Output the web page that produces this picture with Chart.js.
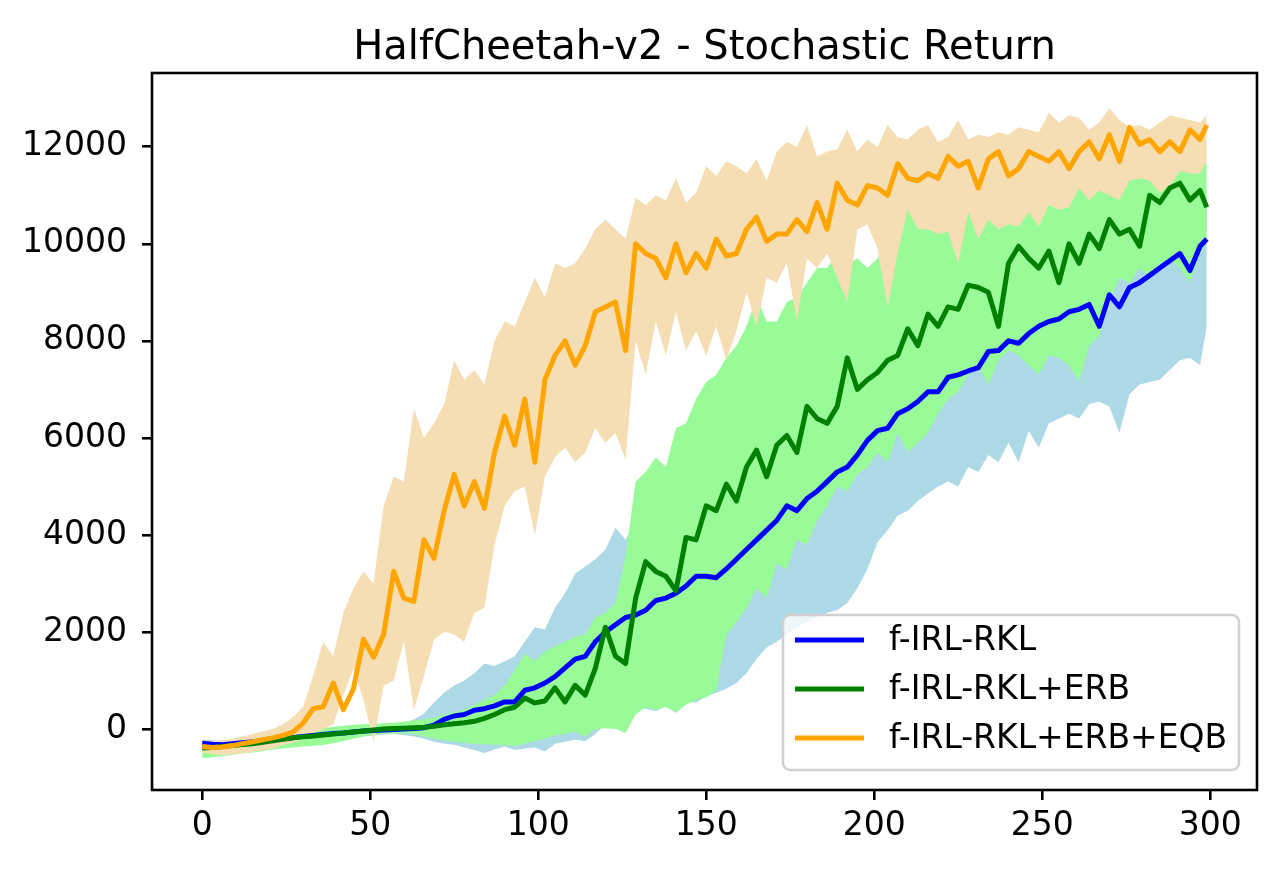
<!DOCTYPE html>
<html>
<head>
<meta charset="utf-8">
<script src="https://cdn.jsdelivr.net/npm/chart.js@4.4.1/dist/chart.umd.min.js"></script>
<style>
  html, body { margin: 0; padding: 0; background: #fff; }
  #wrap { width: 1280px; height: 870px; }
</style>
</head>
<body>
<div id="wrap"><canvas id="chart" width="1280" height="870"></canvas></div>
<script>
// x positions of the sampled iterations
const steps = [0,3,6,9,12,15,18,21,24,27,30,33,36,39,42,45,48,51,54,57,60,63,66,69,72,75,78,81,84,87,90,93,96,99,
  102,105,108,111,114,117,120,123,126,129,132,135,138,141,144,147,150,153,156,159,162,165,168,171,174,177,180,183,186,189,192,195,198,
  201,204,207,210,213,216,219,222,225,228,231,234,237,240,243,246,249,252,255,258,261,264,267,270,273,276,279,282,285,288,291,294,297,299];

const seriesNames = ["f-IRL-RKL", "f-IRL-RKL+ERB", "f-IRL-RKL+ERB+EQB"];
const xTicks = [0, 50, 100, 150, 200, 250, 300];
const yTicks = [0, 2000, 4000, 6000, 8000, 10000, 12000];

// f-IRL-RKL (blue)
const rklMean = [-290,-310,-320,-300,-280,-260,-240,-220,-200,-180,-150,-130,-110,-90,-80,-60,-40,-30,-20,-10,0,10,30,80,200,270,300,390,420,480,560,560,800,850,
  950,1080,1260,1440,1500,1800,2000,2150,2300,2350,2450,2650,2700,2800,2950,3150,3150,3120,3300,3500,3700,3900,4100,4300,4600,4500,4750,4900,5100,5300,5400,5650,5950,
  6150,6200,6500,6600,6750,6950,6950,7250,7300,7380,7450,7780,7800,8000,7950,8150,8300,8400,8450,8600,8650,8750,8300,8950,8700,9100,9200,9350,9500,9650,9800,9450,9950,10100];
const rklUpper = [-210,-230,-240,-220,-200,-180,-160,-140,-120,-100,-80,-60,-40,-20,0,20,40,60,80,100,130,200,320,550,750,900,1000,1150,1350,1300,1400,1500,1800,2100,
  2050,2500,2800,3200,3350,3500,3700,4150,3900,4300,4500,4700,4800,4900,5100,5300,5400,5600,5800,6000,6200,6400,6600,6800,7000,7100,7300,7500,7600,7800,7900,8100,8300,
  8400,8500,8700,8800,8900,9000,9100,9200,9300,9400,9500,9600,9700,9800,9850,9900,10000,10050,10100,10150,10200,10250,10100,10300,10250,10350,10400,10450,10400,10500,10550,10400,10600,10800];
const rklLower = [-400,-430,-440,-420,-400,-380,-350,-330,-310,-290,-270,-250,-230,-210,-190,-170,-150,-130,-110,-100,-120,-150,-200,-260,-300,-320,-380,-430,-490,-420,-360,-430,-400,-380,
  -460,-300,-260,-220,-250,-100,100,330,350,380,420,370,470,330,560,550,670,750,830,950,1150,1450,1680,1800,1950,2100,2200,2300,2400,2450,2600,2900,3300,
  3850,4100,4400,4500,4700,4850,5000,5100,5000,5400,5300,5650,5500,5900,5500,6150,5800,6300,6400,6500,6400,6700,6750,6650,6100,6900,7100,7150,7200,7400,7600,7650,7500,8300];

// f-IRL-RKL+ERB (green)
const erbMean = [-390,-380,-360,-340,-320,-300,-270,-240,-210,-180,-160,-140,-120,-100,-80,-60,-40,-20,0,10,20,30,40,60,90,110,130,160,220,300,400,450,640,540,
  580,850,560,900,700,1250,2100,1500,1350,2700,3450,3250,3150,2850,3950,3900,4600,4500,5050,4700,5400,5750,5200,5850,6050,5700,6650,6400,6300,6650,7650,7000,7200,
  7350,7600,7700,8250,7900,8550,8300,8700,8650,9150,9100,9000,8300,9600,9950,9700,9500,9850,9200,10000,9600,10200,9900,10500,10200,10300,9950,11000,10850,11150,11250,10900,11100,10750];
const erbUpper = [-260,-260,-250,-240,-220,-200,-170,-140,-110,-80,-50,-20,20,50,70,90,100,110,120,130,150,180,200,230,300,350,400,500,600,700,900,1200,1550,1400,
  1600,1700,1800,1900,1950,2300,2400,2600,3550,5100,5300,5600,5400,6200,6300,6800,7150,7300,7650,7900,8300,8900,8400,8400,8800,8900,9200,9500,9500,9800,9600,9700,9500,
  9700,10300,10700,10750,10550,10300,10450,10700,10600,10800,11000,11150,10800,11150,11150,11300,11100,11050,11350,11200,11400,11350,11600,11700,11650,11550,11500,11600,11700,11750,11800,11900,11850,11650];
const erbLower = [-600,-580,-560,-530,-500,-480,-450,-420,-400,-380,-360,-350,-330,-290,-250,-200,-150,-120,-100,-90,-80,-100,-150,-200,-230,-260,-280,-300,-310,-320,-330,-350,-300,-250,
  -200,-120,-100,-50,-150,0,20,0,-80,300,450,400,450,350,500,600,650,800,1950,2200,2500,2900,2700,3400,3300,3900,3800,4300,4600,5000,4900,5250,5400,
  5700,5500,6100,5700,5900,6100,6500,6800,6950,7300,7500,7100,7600,7800,7700,7500,7300,7700,7650,7500,7150,7900,8100,8800,9300,9200,9500,9300,9600,9700,9500,9200,9800,10000];

// f-IRL-RKL+ERB+EQB (orange)
const eqbMean = [-360,-380,-370,-340,-300,-260,-220,-180,-130,-60,120,420,460,950,400,830,1850,1480,1950,3250,2700,2630,3900,3520,4500,5250,4600,5100,4550,5700,6450,5850,6800,5500,
  7200,7700,8000,7500,7900,8600,8700,8800,7800,10000,9800,9700,9300,10000,9400,9800,9500,10100,9750,9800,10300,10550,10050,10200,10200,10500,10250,10850,10300,11250,10900,10800,11200,
  11150,11000,11650,11350,11300,11450,11350,11800,11600,11700,11150,11750,11900,11400,11550,11900,11800,11700,11900,11550,11900,12100,11750,12250,11700,12400,12050,12150,11900,12100,11900,12350,12150,12450];
const eqbUpper = [-220,-250,-230,-200,-150,-100,-50,0,100,250,450,1100,1800,1500,2400,2900,3250,3000,4600,5200,5100,6600,6000,6300,6700,7600,7200,7400,7100,8000,8400,8300,8800,9300,
  8900,9600,9500,9600,9900,10300,10500,10300,10100,10950,10800,11000,10900,11350,10850,11050,11600,11400,11700,11600,11450,11750,11300,11900,12100,12000,12450,11800,11900,11950,12350,11900,12150,
  12000,12450,12200,12150,12350,12450,12100,12200,12550,12150,12250,12200,12300,12250,12400,12350,12300,12700,12500,12650,12600,12350,12500,12800,12550,12400,12450,12350,12500,12650,12600,12550,12500,12650];
const eqbLower = [-480,-520,-540,-520,-500,-470,-430,-400,-330,-280,-200,-80,0,100,700,1250,600,-250,900,1000,1800,400,1100,1850,2000,1950,1800,2400,2500,3800,4600,4900,5000,4000,
  5200,5600,5800,5500,5700,6200,5900,6100,5550,8000,7300,8400,7700,8600,7800,8200,7700,8300,7600,8200,9000,8300,9300,9200,9600,8400,9700,9500,9800,9300,8800,10300,10400,
  9900,8700,9800,10700,10300,10300,10200,10250,9600,10650,10100,10500,10300,10400,10350,10650,10350,10800,10700,10750,11150,10900,11100,11000,10900,11300,11350,11300,11050,11200,11500,11450,11450,11700];

const lineColors = ["#0000ff", "#008000", "#ffa500"];
const bandColors = ["#add8e6", "#98fb98", "#f5deb3"];

function pts(values) {
  return steps.map((x, i) => ({ x: x, y: values[i] }));
}

function band(values, color, fillTarget, order) {
  return {
    data: pts(values),
    borderWidth: 0,
    pointRadius: 0,
    backgroundColor: color,
    fill: fillTarget === null ? false : { target: fillTarget },
    order: order,
    tension: 0
  };
}

function meanLine(values, label, color, order) {
  return {
    label: label,
    data: pts(values),
    borderColor: color,
    borderWidth: 5,
    borderJoinStyle: "round",
    pointRadius: 0,
    fill: false,
    order: order,
    tension: 0
  };
}

const datasets = [
  band(rklLower, bandColors[0], null, 10),
  band(rklUpper, bandColors[0], 0, 9),
  band(erbLower, bandColors[1], null, 8),
  band(erbUpper, bandColors[1], 2, 7),
  band(eqbLower, bandColors[2], null, 6),
  band(eqbUpper, bandColors[2], 4, 5),
  meanLine(rklMean, seriesNames[0], lineColors[0], 3),
  meanLine(erbMean, seriesNames[1], lineColors[1], 2),
  meanLine(eqbMean, seriesNames[2], lineColors[2], 1)
];

// frame, title and legend in matplotlib style
const decorations = {
  id: "decorations",
  afterDatasetsDraw(chart) {
    const ctx = chart.ctx;
    const a = chart.chartArea;
    ctx.save();
    ctx.strokeStyle = "#000";
    ctx.lineWidth = 2.6;
    ctx.strokeRect(a.left, a.top, a.right - a.left, a.bottom - a.top);

    ctx.fillStyle = "#000";
    ctx.font = '40px "DejaVu Sans"';
    ctx.textAlign = "center";
    ctx.textBaseline = "alphabetic";
    ctx.fillText("HalfCheetah-v2 - Stochastic Return", (a.left + a.right) / 2, 59);

    // legend box
    const bx = 783, by = 615, bw = 456, bh = 155, r = 7;
    ctx.beginPath();
    ctx.moveTo(bx + r, by);
    ctx.arcTo(bx + bw, by, bx + bw, by + bh, r);
    ctx.arcTo(bx + bw, by + bh, bx, by + bh, r);
    ctx.arcTo(bx, by + bh, bx, by, r);
    ctx.arcTo(bx, by, bx + bw, by, r);
    ctx.closePath();
    ctx.fillStyle = "rgba(255,255,255,0.8)";
    ctx.fill();
    ctx.strokeStyle = "#d0d0d0";
    ctx.lineWidth = 2.5;
    ctx.stroke();

    ctx.font = '33px "DejaVu Sans"';
    ctx.textAlign = "left";
    ctx.textBaseline = "middle";
    seriesNames.forEach((name, i) => {
      const y = 640 + i * 49;
      ctx.strokeStyle = lineColors[i];
      ctx.lineWidth = 5;
      ctx.beginPath();
      ctx.moveTo(795, y);
      ctx.lineTo(864, y);
      ctx.stroke();
      ctx.fillStyle = "#000";
      ctx.fillText(name, 889, y + 1);
    });
    ctx.restore();
  }
};

new Chart(document.getElementById("chart"), {
  type: "line",
  data: { datasets: datasets },
  plugins: [decorations],
  options: {
    responsive: false,
    animation: false,
    layout: { padding: { top: 73, right: 23, left: 0, bottom: 0 } },
    plugins: {
      legend: { display: false },
      title: { display: false },
      tooltip: { enabled: false }
    },
    scales: {
      x: {
        type: "linear",
        min: -14.95,
        max: 313.95,
        afterBuildTicks: s => { s.ticks = xTicks.map(v => ({ value: v })); },
        afterFit: s => { s.height = 80; },
        border: { display: false },
        grid: { drawOnChartArea: false, drawTicks: true, tickLength: 10, color: "#000", lineWidth: 2.6 },
        ticks: { color: "#000", padding: 7, maxRotation: 0, callback: v => String(v), font: { family: "DejaVu Sans", size: 33 } }
      },
      y: {
        type: "linear",
        min: -1255,
        max: 13520,
        afterBuildTicks: s => { s.ticks = yTicks.map(v => ({ value: v })); },
        afterFit: s => { s.width = 152; },
        border: { display: false },
        grid: { drawOnChartArea: false, drawTicks: true, tickLength: 10, color: "#000", lineWidth: 2.6 },
        ticks: { color: "#000", padding: 15, callback: v => String(v), font: { family: "DejaVu Sans", size: 33 } }
      }
    }
  }
});
</script>
</body>
</html>
